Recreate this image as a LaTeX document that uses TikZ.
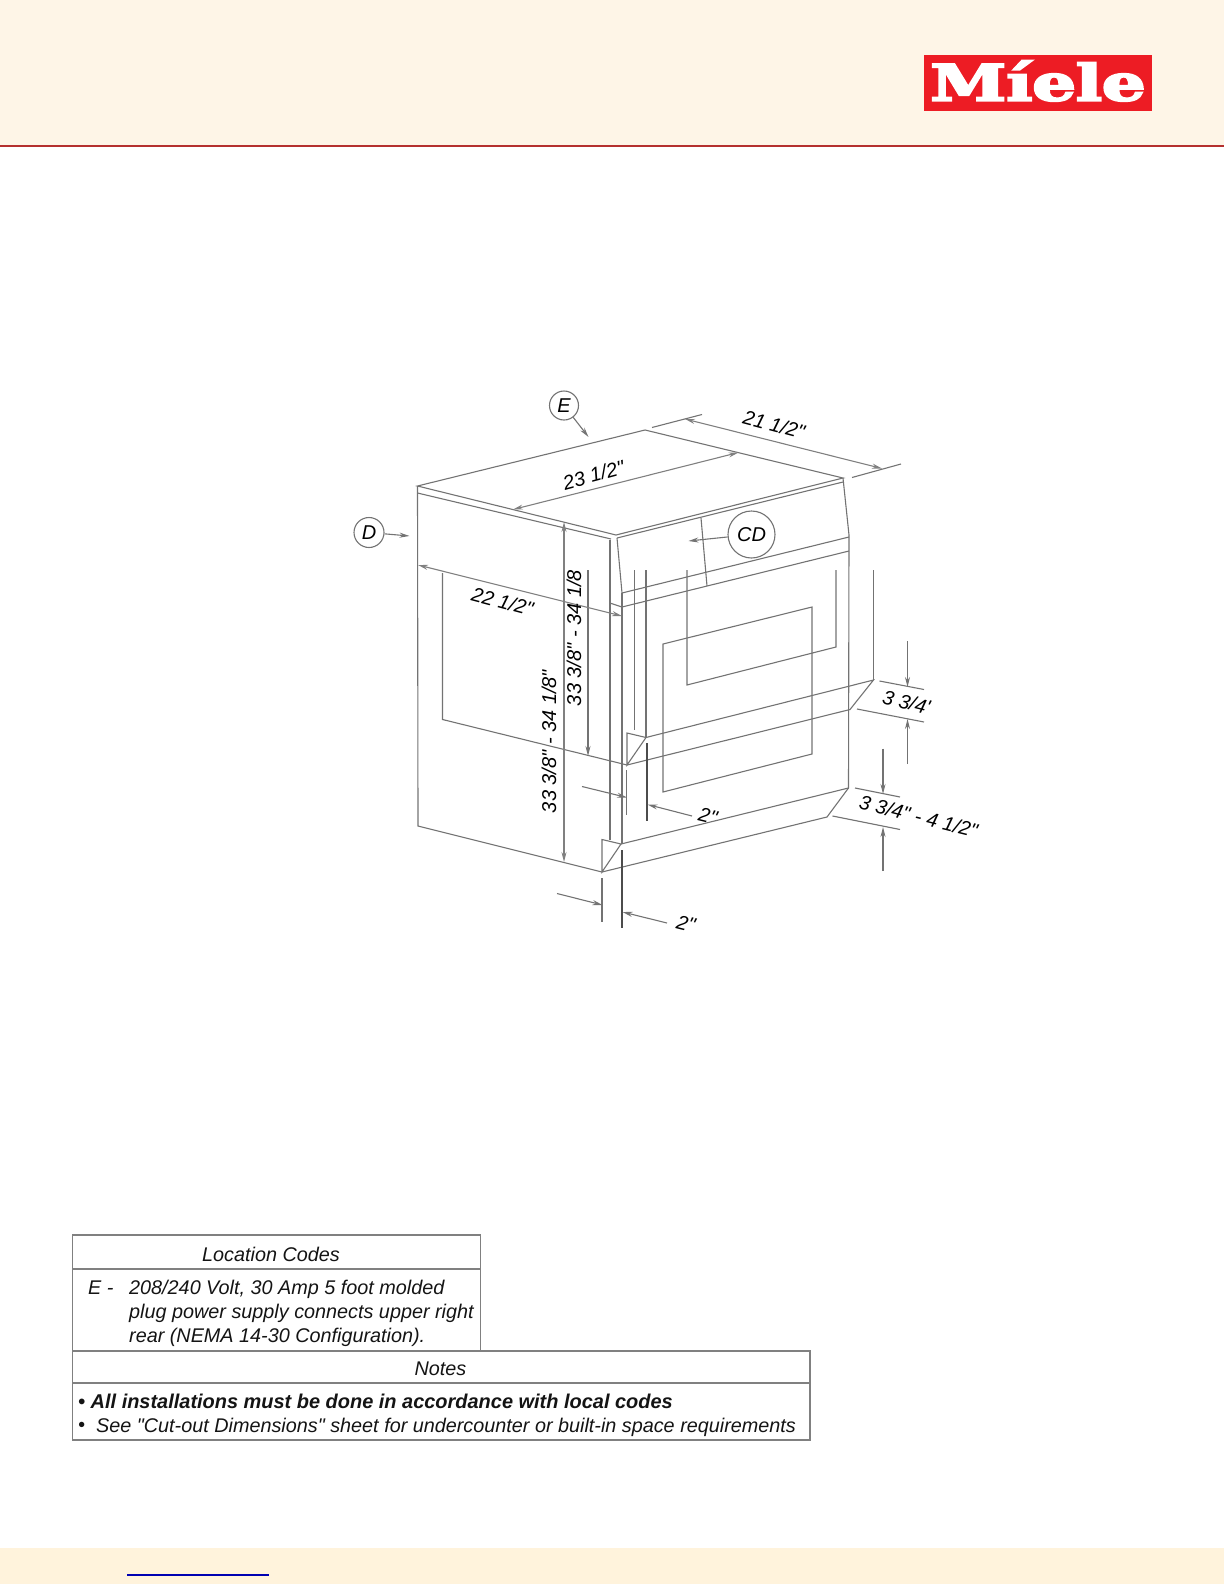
\documentclass[tikz,border=0pt]{standalone}
\usepackage{fontspec}
\usetikzlibrary{arrows.meta}
\setmainfont[Ligatures=TeXOff]{Liberation Sans}
\newfontfamily\logofont[FakeBold=4]{DejaVu Serif}
\definecolor{headcream}{HTML}{FEF5E7}
\definecolor{footcream}{HTML}{FFF3DC}
\definecolor{logored}{HTML}{ED1C24}
\definecolor{rulered}{HTML}{B5302F}
\tikzset{
	body/.style={draw=black!55,line width=1.1pt},
	dimline/.style={draw=black!55,line width=1.1pt},
	dimarrow/.style={draw=black!55,line width=1.1pt,-{Stealth[length=10pt,width=5pt]}},
	twoarrow/.style={draw=black!50,line width=1.1pt,{Stealth[length=10pt,width=5pt]}-{Stealth[length=10pt,width=5pt]}},
	darkline/.style={draw=black!70,line width=1.2pt},
	dimtext/.style={font=\fontsize{20}{24}\selectfont\itshape,text=black,inner sep=0pt},
	tabletext/.style={font=\fontsize{19.8}{24}\selectfont\itshape,text=black!92,inner sep=0pt},
	callout/.style={circle,draw=black!55,line width=1.1pt,fill=white,inner sep=0pt,font=\fontsize{20}{24}\selectfont\itshape,text=black},
	tablebox/.style={draw=black!50,line width=1.2pt},
}
\begin{document}
\begin{tikzpicture}[x=1pt,y=-1pt]
	\useasboundingbox (0,0) rectangle (1224,1584);
	\fill[headcream] (0,0) rectangle (1224,146);
	\draw[rulered,line width=2pt] (0,146) -- (1224,146);
	\fill[footcream] (0,1548) rectangle (1224,1584);
	\draw[blue!70!black,line width=1.2pt] (127,1575) -- (269,1575);
	\fill[logored] (924,55) rectangle (1152,111);
	\node[text=white,inner sep=0pt,xscale=1.37,anchor=base,font=\fontsize{50}{50}\selectfont\logofont\bfseries] (logo) at (1038,100.5) {Míele};

	\draw[body] (417.5,486) -- (645,430) -- (843,478) -- (616,535) -- cycle;
	\draw[body] (417.5,493) -- (611,539);
	\draw[body] (617,538) -- (843,482);
	\draw[body] (417.5,486) -- (418,826) -- (602,872) -- (827,817) -- (848.5,788);
	\draw[body] (843,478) -- (849,535) -- (848.5,788) -- (621,844);
	\draw[body] (617,538) -- (622,593) -- (849,537);
	\draw[body] (610,603) -- (622,607) -- (849,551);
	\draw[body] (610,540) -- (610,603);
	\draw[body] (610,603) -- (610,840);
	\draw[body] (622,593) -- (622,844);
	\draw[body] (602,872) -- (602,839.5) -- (621,844) -- cycle;
	\draw[body] (442.5,573) -- (442.5,719.5) -- (627,765) -- (850,709.5) -- (873.5,680) -- (646,737.5);
	\draw[body] (627,765) -- (627,733) -- (646,737.5) -- cycle;
	\draw[body] (873.5,570) -- (873.5,680);
	\draw[body] (634.5,570) -- (634.5,730);
	\draw[body] (646,570) -- (646,737.5);
	\draw[body] (687,570) -- (687,685) -- (836,647) -- (836,570);
	\draw[body] (663,644) -- (812,607) -- (812,754) -- (663,792) -- cycle;
	\draw[body] (701,518) -- (707,586);

	\draw[twoarrow] (564,522) -- (564,862);
	\draw[dimarrow] (588,570) -- (588,756);
	\draw[twoarrow] (418,565) -- (622,616);
	\draw[twoarrow] (513,509.5) -- (738.5,452.5);
	\draw[twoarrow] (685,419) -- (882,468.5);
	\draw[dimline] (652,427.5) -- (702,414.5);
	\draw[dimline] (852,477.5) -- (901,464);

	\draw[dimline] (626.5,770) -- (626.5,815);
	\draw[darkline] (647,743) -- (647,821);
	\draw[dimarrow] (582,786.5) -- (627,797.5);
	\draw[dimarrow] (692,816) -- (647.5,804.5);
	\draw[dimline] (602,878) -- (602,922);
	\draw[darkline] (622,850) -- (622,928);
	\draw[dimarrow] (557,893.5) -- (602.5,905);
	\draw[dimarrow] (667,923) -- (622.5,912);

	\draw[dimline] (879.5,681) -- (924,689.5);
	\draw[dimline] (857,709) -- (924,722);
	\draw[dimarrow] (907.5,641) -- (907.5,687);
	\draw[dimarrow] (907.5,764) -- (907.5,719);
	\draw[dimline] (855,788) -- (900,797);
	\draw[dimline] (832.5,816) -- (900,829.5);
	\draw[dimarrow] (883,748.5) -- (883,794);
	\draw[dimarrow] (883,871) -- (883,827);

	\node[callout,minimum size=29pt] (codeE) at (564,405.5) {E};
	\node[callout,minimum size=30pt] (codeD) at (369,532.5) {D};
	\node[callout,minimum size=47pt] (codeCD) at (751.5,534.5) {CD};
	\coordinate (tipE) at (588.5,437);
	\coordinate (tipD) at (409.5,536);
	\coordinate (tipCD) at (688.5,541);
	\draw[dimarrow] (codeE) -- (tipE);
	\draw[dimarrow] (codeD) -- (tipD);
	\draw[dimarrow] (codeCD) -- (tipCD);

	\node[dimtext,rotate=15] (widthtop) at (593.5,475) {23 1/2"};
	\node[dimtext,rotate=-15] (depthtop) at (774,424.5) {21 1/2"};
	\node[dimtext,rotate=-15] (widthfront) at (502.5,601.5) {22 1/2"};
	\node[dimtext,rotate=90] (heightin) at (574,638) {33 3/8" - 34 1/8};
	\node[dimtext,rotate=90] (heightout) at (549,741.5) {33 3/8" - 34 1/8"};
	\node[dimtext,rotate=-14] (twoupper) at (708,816) {2"};
	\node[dimtext,rotate=-14] (twolower) at (686,923.5) {2"};
	\node[dimtext,rotate=-14] (gapupper) at (906.5,702) {3 3/4'};
	\node[dimtext,rotate=-14] (gaplower) at (918.5,816.5) {3 3/4" - 4 1/2"};

	\draw[tablebox] (72.5,1235) rectangle (480.5,1351);
	\draw[tablebox] (72.5,1269) -- (480.5,1269);
	\draw[tablebox] (72.5,1351) rectangle (810,1440);
	\draw[tablebox] (72.5,1383) -- (810,1383);
	\node[tabletext] (codeshead) at (271,1254.5) {Location Codes};
	\node[tabletext,anchor=west] (codeskey) at (88,1287.5) {E -};
	\node[tabletext,anchor=west] (codesa) at (129,1289.5) {208/240 Volt, 30 Amp 5 foot molded};
	\node[tabletext,anchor=west] (codesb) at (129,1313.5) {plug power supply connects upper right};
	\node[tabletext,anchor=west] (codesc) at (129,1337) {rear (NEMA 14-30 Configuration).};
	\node[tabletext] (noteshead) at (440.5,1369) {Notes};
	\node[tabletext,anchor=west,font=\fontsize{19.95}{24}\selectfont\itshape\bfseries] (notesa) at (78,1401.5) {• All installations must be done in accordance with local codes};
	\node[tabletext,anchor=west] (notesbullet) at (78,1426.5) {•};
	\node[tabletext,anchor=west] (notesb) at (96,1427) {See "Cut-out Dimensions" sheet for undercounter or built-in space requirements};
\end{tikzpicture}
\end{document}
